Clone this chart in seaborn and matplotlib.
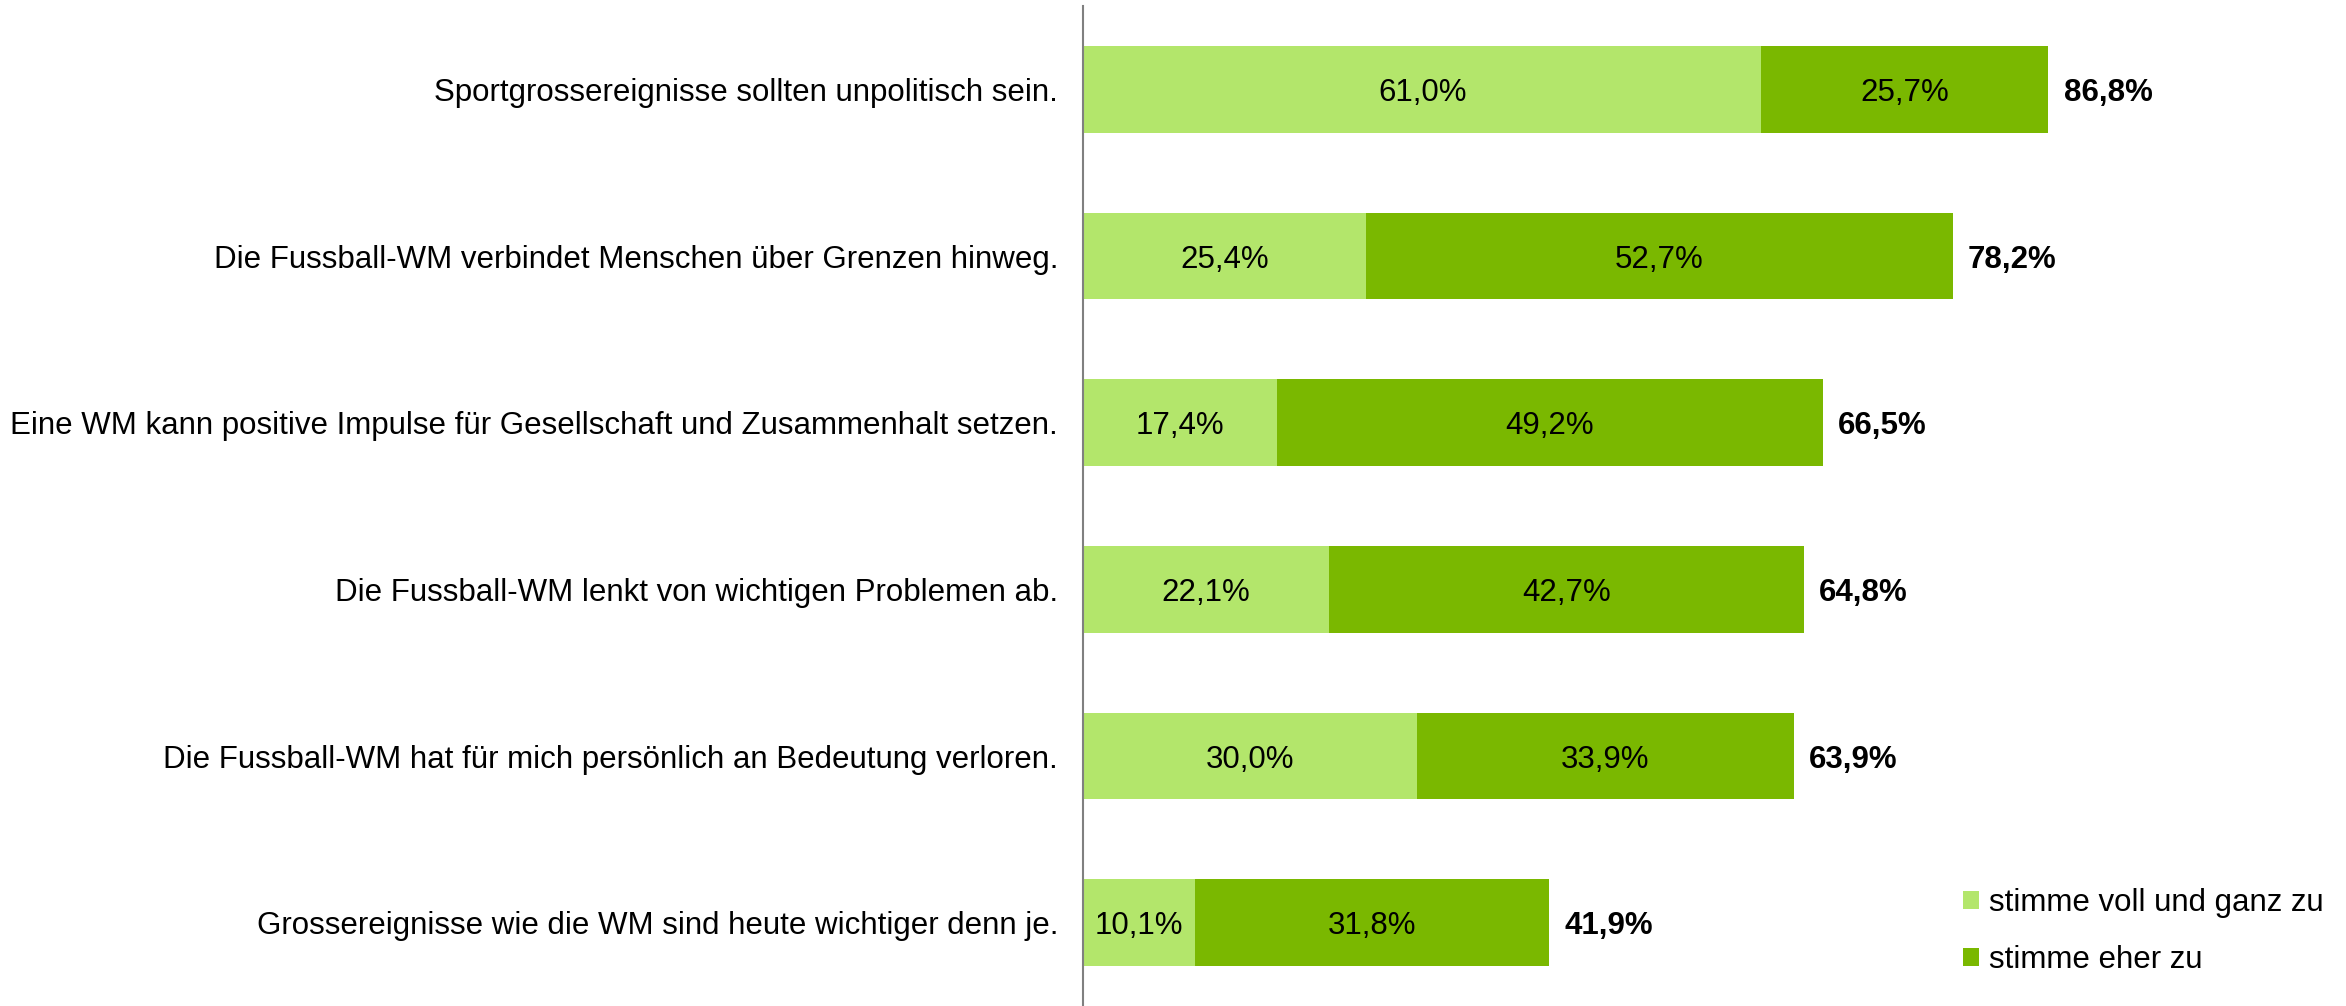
import pandas as pd
import seaborn as sns
import matplotlib.pyplot as plt
from matplotlib.patches import Patch

sns.set_theme(style="white")
plt.rcParams['font.family'] = ['Liberation Sans', 'DejaVu Sans']
plt.rcParams['text.color'] = 'black'

# Data
statements = [
    'Sportgrossereignisse sollten unpolitisch sein.',
    'Die Fussball-WM verbindet Menschen über Grenzen hinweg.',
    'Eine WM kann positive Impulse für Gesellschaft und Zusammenhalt setzen.',
    'Die Fussball-WM lenkt von wichtigen Problemen ab.',
    'Die Fussball-WM hat für mich persönlich an Bedeutung verloren.',
    'Grossereignisse wie die WM sind heute wichtiger denn je.',
]
voll = [61.0, 25.4, 17.4, 22.1, 30.0, 10.1]
eher = [25.7, 52.7, 49.2, 42.7, 33.9, 31.8]
total = [86.8, 78.2, 66.5, 64.8, 63.9, 41.9]
series_labels = ['stimme voll und ganz zu', 'stimme eher zu']

light_green = '#B3E66B'
dark_green = '#7AB800'

df = pd.DataFrame({'Aussage': statements, 'voll': voll, 'eher': eher, 'total': total})

fig = plt.figure(figsize=(23.46, 10.06), dpi=100)
ax = fig.add_axes([0.4617, 0.0, 0.474, 0.994])

# stacked bars: total (dark) first, then light part on top
sns.barplot(data=df, y='Aussage', x='total', color=dark_green, orient='h',
            width=0.52, saturation=1, linewidth=0, ax=ax)
sns.barplot(data=df, y='Aussage', x='voll', color=light_green, orient='h',
            width=0.52, saturation=1, linewidth=0, ax=ax)

fs = 22.5
for i, row in df.iterrows():
    ax.text(row['voll'] / 2, i, f"{row['voll']:.1f}%".replace('.', ','),
            ha='center', va='center_baseline', fontsize=fs, color='black')
    ax.text(row['voll'] + (row['total'] - row['voll']) / 2, i,
            f"{row['eher']:.1f}%".replace('.', ','),
            ha='center', va='center_baseline', fontsize=fs, color='black')
    ax.annotate(f"{row['total']:.1f}%".replace('.', ','), (row['total'], i),
                xytext=(11, 0), textcoords='offset points',
                ha='left', va='center_baseline', fontsize=fs, fontweight='bold', color='black')

ax.set_xlim(0, 100)
ax.set_ylim(5.5, -0.5)
ax.set_xlabel('')
ax.set_ylabel('')
ax.set_xticks([])
ax.tick_params(axis='y', length=0, pad=18, labelsize=fs, labelcolor='black')
for s in ['top', 'right', 'bottom']:
    ax.spines[s].set_visible(False)
ax.spines['left'].set_color('#808080')
ax.spines['left'].set_linewidth(1.5)

handles = [Patch(facecolor=light_green, edgecolor='none'),
           Patch(facecolor=dark_green, edgecolor='none')]
fig.legend(handles, series_labels, loc='center left', bbox_to_anchor=(0.8367, 0.074),
           frameon=False, fontsize=fs, handlelength=0.5, handleheight=0.5,
           handletextpad=0.35, labelspacing=0.85, borderpad=0, borderaxespad=0)

fig.savefig('out.png', dpi=100)
